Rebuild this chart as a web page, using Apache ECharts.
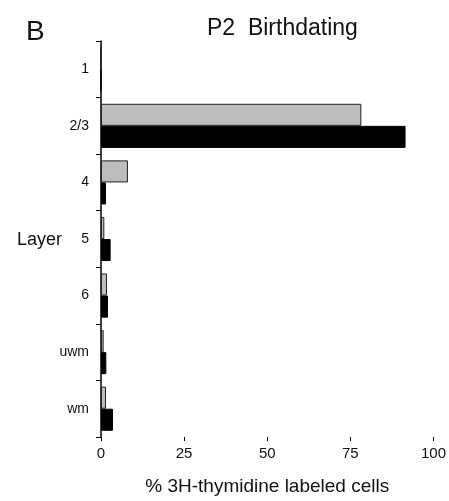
<!DOCTYPE html>
<html>
<head>
<meta charset="utf-8">
<script src="https://cdn.jsdelivr.net/npm/echarts@6/dist/echarts.min.js"></script>
<style>
html, body { margin: 0; padding: 0; background: #fff; }
#chart { width: 449px; height: 501px; }
</style>
</head>
<body>
<div id="chart"></div>
<script>
// layers, top to bottom
var layers = ['1', '2/3', '4', '5', '6', 'uwm', 'wm'];
var grayVals = [0, 78.3, 8.1, 1.0, 1.8, 0.8, 1.5];
var blackVals = [0, 91.6, 1.5, 2.9, 2.1, 1.6, 3.6];
var xTicks = [0, 25, 50, 75, 100];

var FONT = 'Liberation Sans, Arial, sans-serif';

var myChart = echarts.init(document.getElementById('chart'));
myChart.setOption({
    animation: false,
    backgroundColor: '#fff',
    textStyle: { fontFamily: FONT },
    title: [
        { text: 'B', left: 21, top: 13, textStyle: { fontSize: 28, fontWeight: 'normal', color: '#111', fontFamily: FONT } },
        { text: 'P2  Birthdating', left: 202, top: 12, textStyle: { fontSize: 23, fontWeight: 'normal', color: '#111', fontFamily: FONT } },
        // y axis name, placed by hand so it does not get pushed around
        { text: 'Layer', left: 12, top: 226, textStyle: { fontSize: 18, fontWeight: 'normal', color: '#111', fontFamily: FONT } }
    ],
    grid: { left: 101, right: 15, top: 41, bottom: 60 },
    xAxis: {
        type: 'value',
        min: 0, max: 100, interval: 25,
        name: '% 3H-thymidine labeled cells',
        nameLocation: 'middle',
        nameGap: 40,
        nameTextStyle: { fontSize: 19, color: '#111', fontFamily: FONT },
        axisLine: { lineStyle: { color: '#000', width: 1.5 } },
        axisTick: { show: true, length: 4, lineStyle: { color: '#000' } },
        axisLabel: { fontSize: 15, color: '#111', margin: 9,
            formatter: function (v) { return xTicks.indexOf(v) >= 0 ? String(v) : ''; } },
        splitLine: { show: false }
    },
    yAxis: {
        type: 'category',
        data: layers,
        inverse: true,
        axisLine: { lineStyle: { color: '#000', width: 1.5 } },
        axisTick: { show: true, length: 5, lineStyle: { color: '#000' } },
        axisLabel: { fontSize: 14, color: '#111', margin: 12 },
        splitLine: { show: false }
    },
    series: [
        {
            name: 'gray', type: 'bar', data: grayVals,
            barGap: '0%', barCategoryGap: '22%',
            itemStyle: { color: '#bdbdbd', borderColor: '#222', borderWidth: 1 }
        },
        {
            name: 'black', type: 'bar', data: blackVals,
            itemStyle: { color: '#000', borderColor: '#000', borderWidth: 1 }
        }
    ]
});
</script>
</body>
</html>
